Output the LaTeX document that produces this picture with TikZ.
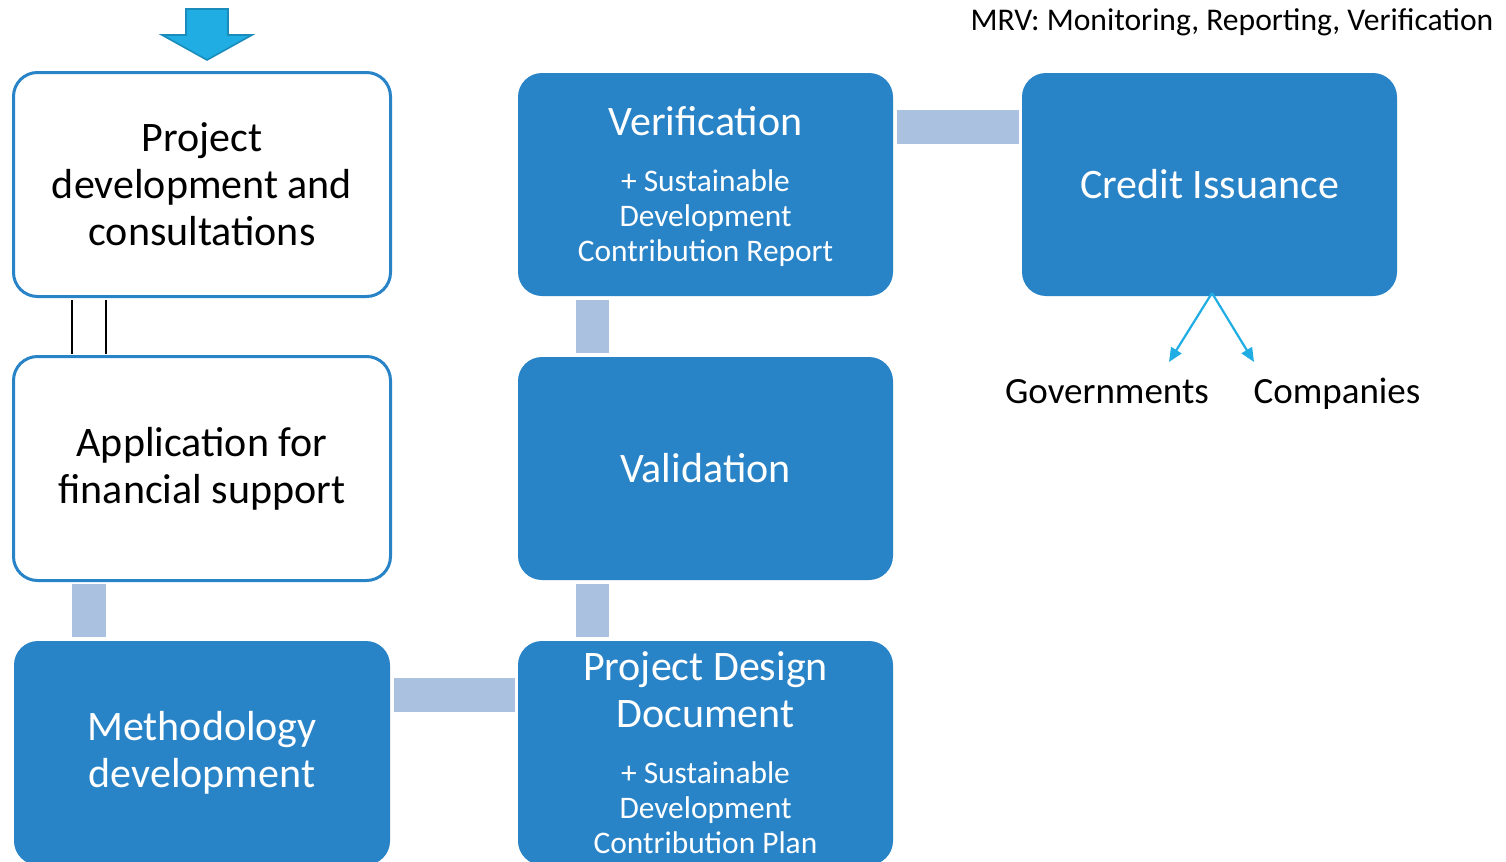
\documentclass[tikz,border=0pt]{standalone}
\usepackage{fontspec}
\setmainfont{Carlito}
\usetikzlibrary{calc,arrows.meta}
\definecolor{boxblue}{RGB}{41,131,199}
\definecolor{connblue}{RGB}{171,193,224}
\definecolor{arrowblue}{RGB}{31,173,227}
\definecolor{arrowedge}{RGB}{26,140,187}
\newcommand{\subblock}[1]{{\fontsize{15.7}{17.5}\selectfont\begin{tabular}[t]{@{}c@{}}#1\end{tabular}}}
\tikzset{
  whitebox/.style={draw=boxblue, line width=1.5pt, fill=white, rounded corners=12pt,
    minimum width=188.5pt, minimum height=112pt, align=center, inner sep=0pt,
    font=\fontsize{21}{23.5}\selectfont, text=black},
  bluebox/.style={fill=boxblue, rounded corners=12pt,
    minimum width=187.5pt, minimum height=111.5pt, align=center, inner sep=0pt,
    font=\fontsize{21}{23.5}\selectfont, text=white},
  boxtext/.style={align=center, inner sep=0pt, font=\fontsize{21}{23.5}\selectfont, text=white},
  conn/.style={fill=connblue},
  lbl/.style={font=\fontsize{18.5}{21}\selectfont, text=black, inner sep=0pt, anchor=base},
  outarrow/.style={draw=arrowblue, line width=1.1pt, -{Triangle[length=7pt,width=6pt]}}
}
\begin{document}
\begin{tikzpicture}[x=0.5pt,y=-0.5pt]
\useasboundingbox (0,0) rectangle (1506,862);
\clip (0,0) rectangle (1506,862);

% block arrow at top
\fill[arrowblue, draw=arrowedge, line width=0.8pt]
  (186,9) -- (228,9) -- (228,35) -- (252,35) -- (207,60) -- (162,35) -- (186,35) -- cycle;

% boxes
\node[whitebox] (pd) at (202,184.5) {Project\\development and\\consultations};
\node[whitebox] (app) at (202,468.5) {Application for\\financial support};
\node[bluebox, minimum width=188pt, minimum height=112pt] (meth) at (202,753) {Methodology\\development};
\node[bluebox, minimum height=112pt] (pdd) at (705.5,753) {};
\node[boxtext] (pddtext) at ($(pdd.center)+(0,4.5)$) {Project Design\\Document\\[4.5pt]\subblock{+ Sustainable\\Development\\Contribution Plan}};
\node[bluebox] (val) at (705.5,468.5) {Validation};
\node[bluebox] (ver) at (705.5,184.5) {};
\node[boxtext] (vertext) at ($(ver.center)+(0,4.5)$) {Verification\\[4.5pt]\subblock{+ Sustainable\\Development\\Contribution Report}};
\node[bluebox] (cred) at (1209.5,184.5) {Credit Issuance};

% connectors (light bars)
\fill[conn] ($(ver.north east)+(4,37)$) rectangle ($(cred.north west)+(-3,71)$);
\fill[conn] ($(ver.south west)+(58,4)$) rectangle ($(val.north west)+(91,-4)$);
\fill[conn] ($(val.south west)+(58,4)$) rectangle ($(pdd.north west)+(91,-4)$);
\fill[conn] ($(meth.north east)+(4,37)$) rectangle ($(pdd.north west)+(-3,71)$);
\fill[conn] ($(app.south west)+(59.5,2)$) rectangle ($(meth.north west)+(92.5,-4)$);

% double line between first two boxes
\draw[line width=1.2pt] ($(pd.south west)+(60,1.5)$) -- ($(app.north west)+(60,-1.5)$);
\draw[line width=1.2pt] ($(pd.south west)+(94,1.5)$) -- ($(app.north west)+(94,-1.5)$);

% credit outlets
\coordinate (ci) at (1212,293);
\coordinate (gtip) at (1169,362);
\coordinate (ctip) at (1254,362);
\node[lbl] (gov) at (1107,403) {Governments};
\node[lbl] (comp) at (1337,403) {Companies};
\draw[outarrow] (ci) -- (gtip);
\draw[outarrow] (ci) -- (ctip);

% note
\node[font=\fontsize{15.8}{18}\selectfont, inner sep=0pt] (mrv) at (1232,22) {MRV: Monitoring, Reporting, Verification};
\end{tikzpicture}
\end{document}
